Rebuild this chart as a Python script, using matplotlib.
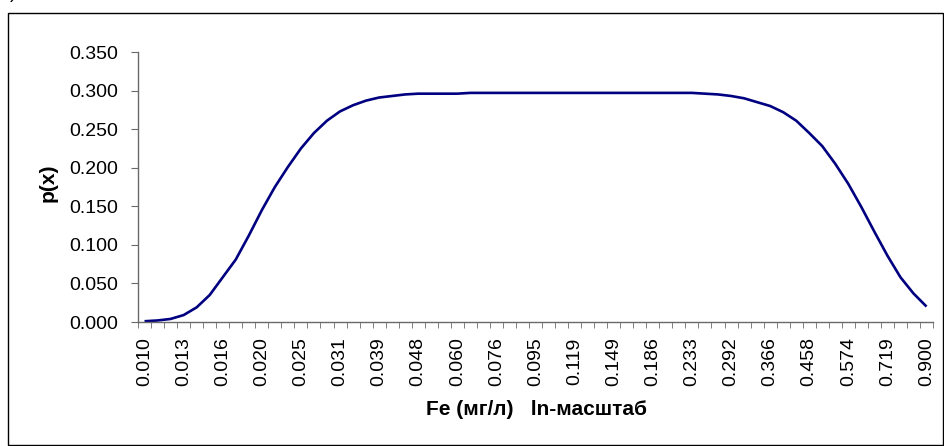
import numpy as np
import matplotlib
matplotlib.use("Agg")
import matplotlib.pyplot as plt
from matplotlib.patches import Rectangle

plt.rcParams['font.family'] = ['Liberation Sans', 'DejaVu Sans']

# 61 categories on a ln scale, every third one is labelled
tick_labels = ['0.010', '0.013', '0.016', '0.020', '0.025', '0.031', '0.039',
               '0.048', '0.060', '0.076', '0.095', '0.119', '0.149', '0.186',
               '0.233', '0.292', '0.366', '0.458', '0.574', '0.719', '0.900']

# p(x), one value per category
p_left = [0.001, 0.002, 0.004, 0.009, 0.019, 0.035, 0.058, 0.081, 0.112, 0.145,
          0.175, 0.201, 0.225, 0.245, 0.261, 0.273, 0.281, 0.287, 0.291, 0.293,
          0.295]
p_mid = [0.296, 0.296, 0.296, 0.296, 0.297, 0.297, 0.297, 0.297, 0.297, 0.297,
         0.297, 0.297, 0.297, 0.297, 0.297, 0.297, 0.297, 0.297, 0.297, 0.297,
         0.297, 0.297]
p_right = [0.296, 0.295, 0.293, 0.290, 0.285, 0.280, 0.272, 0.261, 0.245, 0.228,
           0.205, 0.179, 0.149, 0.117, 0.086, 0.058, 0.037, 0.020]
p = p_left + p_mid + p_right

fig = plt.figure(figsize=(9.44, 4.46), dpi=100)
ax = fig.add_axes([0.1462, 0.278, 0.8422, 0.6054])

x = np.arange(len(p))
ax.plot(x, p, color='#000080', linewidth=1.9, solid_capstyle='butt')

ax.set_xlim(-0.5, len(p) - 0.5)
ax.set_ylim(0, 0.35)
ax.set_yticks(np.arange(0, 0.351, 0.05))
ax.set_yticklabels(['%.3f' % v for v in np.arange(0, 0.351, 0.05)])

ax.set_xticks(np.arange(0, len(p), 3))
ax.set_xticklabels(tick_labels, rotation=90)
ax.set_xticks(np.arange(-0.5, len(p), 1), minor=True)

axis_col = '#6a6a6a'
for s in ['top', 'right']:
    ax.spines[s].set_visible(False)
for s in ['left', 'bottom']:
    ax.spines[s].set_color(axis_col)
    ax.spines[s].set_linewidth(1.0)

ax.tick_params(axis='x', which='major', length=0, pad=11, labelsize=14)
ax.tick_params(axis='x', which='minor', length=4, color=axis_col, direction='out')
ax.tick_params(axis='y', length=5, color=axis_col, pad=9, labelsize=14)

fig.text(0.051, 0.590, 'p(x)', rotation=90, ha='center', va='center',
         fontsize=15, fontweight='bold')
fig.text(0.568, 0.081, 'Fe (мг/л)   ln-масштаб', ha='center', va='center',
         fontsize=15, fontweight='bold')
fig.text(0.011, 1.004, ')', ha='left', va='baseline', fontsize=14)

frame = Rectangle((8 / 944, 1 / 446), 935 / 944, 432 / 446, transform=fig.transFigure,
                  fill=False, edgecolor='black', linewidth=1.0)
fig.patches.append(frame)

fig.savefig('out.png', dpi=100)
